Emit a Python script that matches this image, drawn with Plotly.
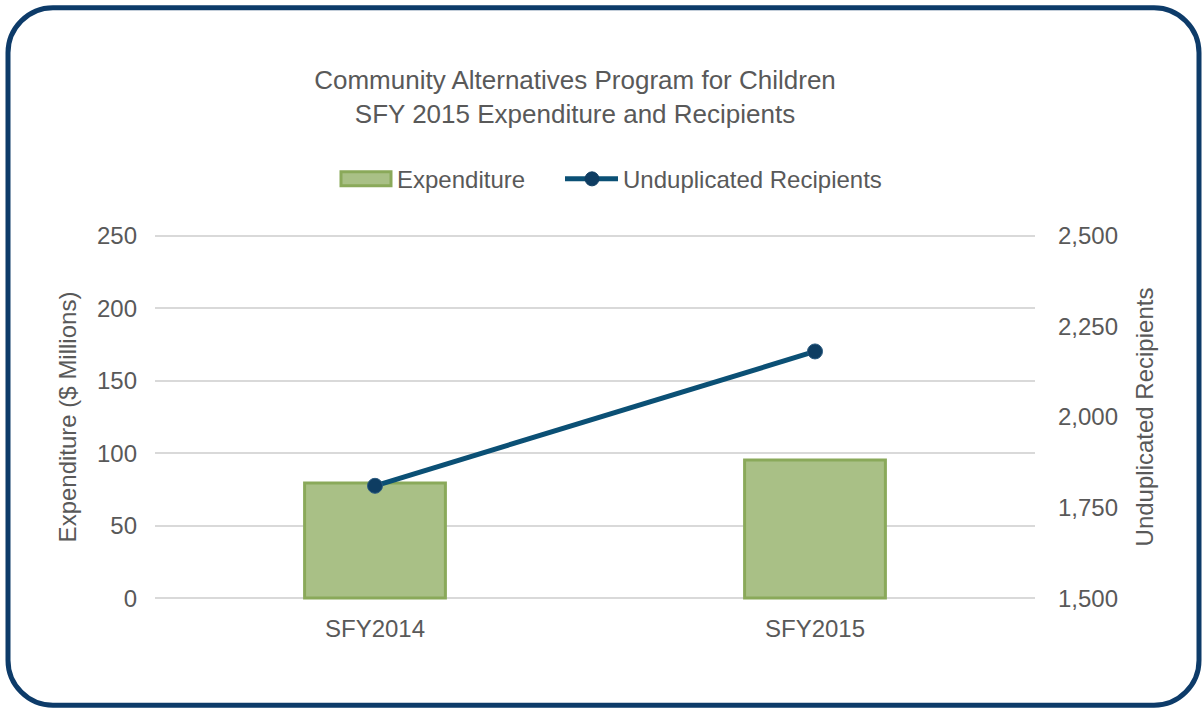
import plotly.graph_objects as go

categories = ["SFY2014", "SFY2015"]
expenditure = [79.5, 95.3]
recipients = [1810, 2181]
left_ticks = [0, 50, 100, 150, 200, 250]
right_ticks = [1500, 1750, 2000, 2250, 2500]

W, H = 1204, 708
# pixel positions of the axis extremes (0 / 250 and 1500 / 2500)
PL, PR, PT, PB = 155, 1035, 236, 598
pad = 2.0                       # units of left axis added on each side
s = (PB - PT) / 250.0           # px per left unit
L, R = PL, PR
T = PT - pad * s
B = PB + pad * s

def px(x):
    return (x - L) / (R - L)

def py(y):
    return (B - y) / (B - T)

# rounded border path in paper coords
x0, x1, y0, y1, r = 8, 1199, 8, 705, 45
k = 0.45
path = (
    f"M {px(x0 + r)},{py(y0)} L {px(x1 - r)},{py(y0)} "
    f"C {px(x1 - r*k)},{py(y0)} {px(x1)},{py(y0 + r*k)} {px(x1)},{py(y0 + r)} "
    f"L {px(x1)},{py(y1 - r)} "
    f"C {px(x1)},{py(y1 - r*k)} {px(x1 - r*k)},{py(y1)} {px(x1 - r)},{py(y1)} "
    f"L {px(x0 + r)},{py(y1)} "
    f"C {px(x0 + r*k)},{py(y1)} {px(x0)},{py(y1 - r*k)} {px(x0)},{py(y1 - r)} "
    f"L {px(x0)},{py(y0 + r)} "
    f"C {px(x0)},{py(y0 + r*k)} {px(x0 + r*k)},{py(y0)} {px(x0 + r)},{py(y0)} Z"
)

grey = "#595959"
font = "Liberation Sans, Arial, sans-serif"
bar_fill = "#a9c086"
bar_line = "#8aa95a"
line_col = "#0b5075"
mk_col = "#0e3d62"

fig = go.Figure()
fig.add_trace(go.Bar(
    x=categories, y=expenditure, name="Expenditure",
    marker=dict(color=bar_fill, line=dict(color=bar_line, width=3)),
    width=0.32, showlegend=False,
))
fig.add_trace(go.Scatter(
    x=categories, y=recipients, name="Unduplicated Recipients", yaxis="y2",
    mode="lines+markers",
    line=dict(color=line_col, width=5),
    marker=dict(color=mk_col, size=15, line=dict(color="#2a5a80", width=1)),
    showlegend=False,
))

# manual legend
ly = 179
shapes = [
    dict(type="path", path=path, xref="paper", yref="paper",
         line=dict(color="#0d3b69", width=5), layer="above"),
    dict(type="rect", xref="paper", yref="paper",
         x0=px(341), x1=px(391), y0=py(172), y1=py(186),
         fillcolor=bar_fill, line=dict(color=bar_line, width=3)),
    dict(type="line", xref="paper", yref="paper",
         x0=px(565), x1=px(618), y0=py(ly), y1=py(ly),
         line=dict(color=line_col, width=5)),
    dict(type="circle", xref="paper", yref="paper",
         x0=px(585), x1=px(599), y0=py(ly - 7), y1=py(ly + 7),
         fillcolor=mk_col, line=dict(color=mk_col, width=1)),
]
annotations = [
    dict(text="Expenditure", xref="paper", yref="paper", x=px(395), y=py(ly + 1),
         xanchor="left", yanchor="middle", showarrow=False,
         font=dict(size=24, color=grey, family=font)),
    dict(text="Unduplicated Recipients", xref="paper", yref="paper", x=px(621), y=py(ly + 1),
         xanchor="left", yanchor="middle", showarrow=False,
         font=dict(size=24, color=grey, family=font)),
]

fig.update_layout(
    width=W, height=H,
    margin=dict(l=L, r=W - R, t=T, b=H - B),
    paper_bgcolor="white", plot_bgcolor="white",
    font=dict(family=font, size=24, color=grey),
    title=dict(
        text="Community Alternatives Program for Children<br>SFY 2015 Expenditure and Recipients",
        x=575 / W, xanchor="center", xref="container",
        y=1 - 89 / H, yanchor="middle", yref="container",
        font=dict(size=26, color=grey, family=font),
    ),
    showlegend=False,
    xaxis=dict(
        range=[-0.5, 1.5], showgrid=False, zeroline=False, showline=False,
        tickfont=dict(size=24, color=grey), ticks="", ticklabelstandoff=11,
    ),
    yaxis=dict(
        range=[-pad, 250 + pad], tickvals=left_ticks, showgrid=True,
        gridcolor="#d9d9d9", gridwidth=2, zeroline=False, showline=False,
        title=dict(text="Expenditure ($ Millions)", font=dict(size=24, color=grey), standoff=13),
        tickfont=dict(size=24, color=grey), ticklabelstandoff=17,
    ),
    yaxis2=dict(
        range=[1500 - pad * 4, 2500 + pad * 4], tickvals=right_ticks, overlaying="y", side="right",
        showgrid=False, zeroline=False, showline=False, tickformat=",",
        title=dict(text="Unduplicated Recipients", font=dict(size=24, color=grey), standoff=19),
        tickfont=dict(size=24, color=grey), ticklabelstandoff=22,
    ),
    shapes=shapes,
    annotations=annotations,
)

fig.write_html("out.html", config={"displayModeBar": False},
               post_script="document.body.style.margin='0px';")
